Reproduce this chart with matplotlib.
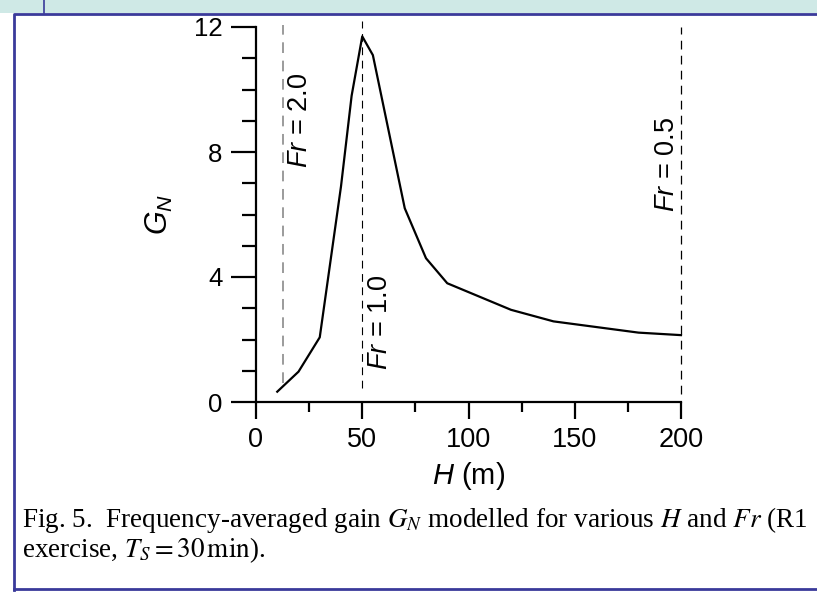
import matplotlib
matplotlib.use('Agg')
import matplotlib.pyplot as plt
from matplotlib.patches import Rectangle
from matplotlib.lines import Line2D

plt.rcParams['font.family'] = ['Liberation Sans', 'DejaVu Sans']
plt.rcParams['mathtext.fontset'] = 'custom'
plt.rcParams['mathtext.rm'] = 'Liberation Sans'
plt.rcParams['mathtext.it'] = 'Liberation Sans:italic'

# depth H (m) and frequency-averaged gain G_N
H = [10, 20, 30, 40, 45, 50, 55, 70, 80, 90, 120, 140, 180, 200]
GN = [0.33, 0.97, 2.07, 6.9, 9.8, 11.7, 11.1, 6.2, 4.6, 3.8, 2.95, 2.58, 2.22, 2.14]

# Froude number reference lines
fr_H = [12.5, 50, 200]
fr_labels = ['2.0', '1.0', '0.5']

fig = plt.figure(figsize=(8.17, 5.92), dpi=100)

# page frame (screenshot border)
fig.patches.append(Rectangle((0, 1 - 13 / 592), 1, 13 / 592, transform=fig.transFigure,
                             facecolor='#cfe9e6', edgecolor='none'))
fig.lines.append(Line2D([44 / 817, 44 / 817], [1, 1 - 13 / 592], transform=fig.transFigure,
                        color='#3a3a9a', lw=1.2))
fig.lines.append(Line2D([14 / 817, 14 / 817, 1.0], [2 / 592, 1 - 14 / 592, 1 - 14 / 592],
                        transform=fig.transFigure, color='#3a3a9a', lw=2))
fig.lines.append(Line2D([14 / 817, 1.0], [3 / 592, 3 / 592],
                        transform=fig.transFigure, color='#3a3a9a', lw=2))

ax = fig.add_axes([256 / 817, 1 - 402 / 592, 425 / 817, 375 / 592])
ax.set_xlim(0, 200)
ax.set_ylim(0, 12)

ax.plot(H, GN, color='black', lw=1.6, clip_on=False, zorder=3)

# dashed Fr lines
ax.plot([fr_H[0], fr_H[0]], [0.6, 12.05], color='#808080', lw=1.1, ls=(0, (7, 5)), clip_on=False)
ax.plot([fr_H[1], fr_H[1]], [0.45, 12.2], color='black', lw=0.8, ls=(0, (7, 5)), clip_on=False)
ax.plot([fr_H[2], fr_H[2]], [0.25, 12.0], color='black', lw=0.9, ls=(0, (7, 5)), clip_on=False)

lab_pos = [(20.7, 9.0), (58.5, 2.56), (193.5, 7.6)]
for (x, y), s in zip(lab_pos, fr_labels):
    ax.text(x, y, r'$Fr$ = ' + s, rotation=90, ha='center', va='center', fontsize=19.5)

for side in ['top', 'right']:
    ax.spines[side].set_visible(False)
for side in ['left', 'bottom']:
    ax.spines[side].set_linewidth(1.6)

ax.set_xticks([0, 50, 100, 150, 200])
ax.set_xticks([25, 75, 125, 175], minor=True)
ax.set_yticks([0, 4, 8, 12])
ax.set_yticks([1, 2, 3, 5, 6, 7, 9, 10, 11], minor=True)
ax.tick_params(which='major', direction='out', length=12, width=1.6, labelsize=19.5, pad=6)
ax.tick_params(which='minor', direction='out', length=7, width=1.6)
ax.tick_params(axis='y', which='major', length=18, labelsize=18.5)
ax.tick_params(axis='y', which='minor', length=10)

ax.set_xlabel(r'$H$ (m)', fontsize=21, labelpad=5)
ax.set_ylabel(r'$G_N$', fontsize=22, labelpad=14)

# caption
cap1 = r'Fig. 5.  Frequency-averaged gain $G_N$ modelled for various $H$ and $Fr$ (R1'
cap2 = r'exercise, $T_S = 30\,\mathrm{min}$).'
for txt, yb in [(cap1, 527), (cap2, 557)]:
    t = fig.text(22 / 817, 1 - yb / 592, txt, fontsize=19.5, va='baseline', ha='left',
                 family=['Liberation Serif', 'DejaVu Serif'])
    t.set_math_fontfamily('stix')

fig.savefig('out.png', dpi=100)
